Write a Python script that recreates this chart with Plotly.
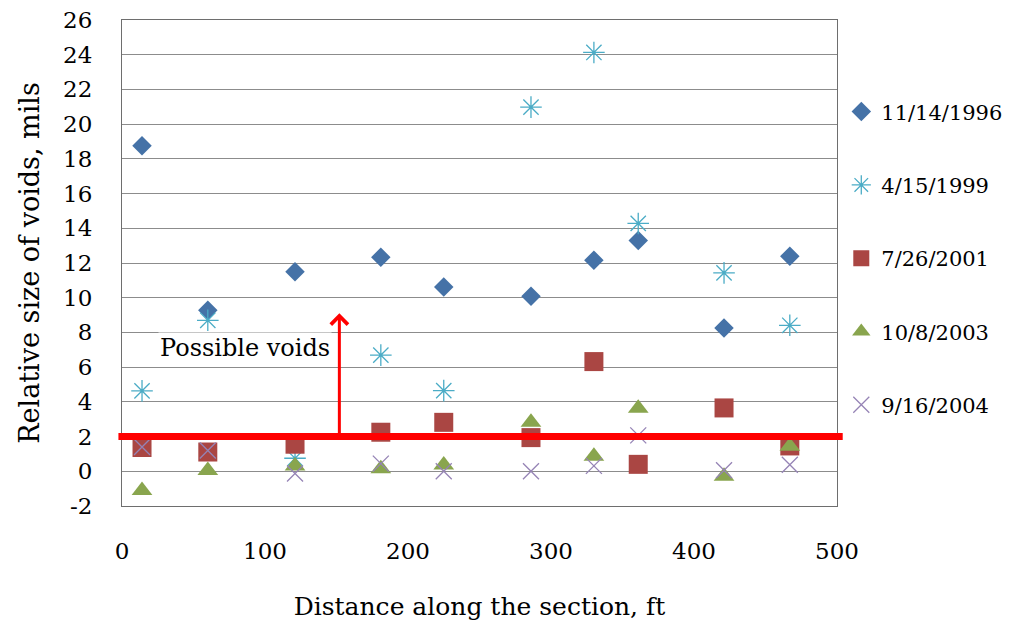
import plotly.graph_objects as go

distance = [14, 60, 121, 181, 225, 286, 330, 361, 421, 467]

voids_1996 = [18.75, 9.28, 11.49, 12.33, 10.62, 10.09, 12.16, 13.3, 8.26, 12.39]
voids_1999 = [4.63, 8.7, 0.75, 6.69, 4.65, 20.98, 24.13, 14.28, 11.43, 8.41]
voids_2001 = [1.37, 1.11, 1.56, 2.25, 2.82, 1.94, 6.32, 0.4, 3.65, 1.46]
voids_2003 = [-1.11, 0.04, 0.31, 0.15, 0.36, 2.82, 0.86, 3.63, -0.29, 1.44]
voids_2004 = [1.4, 1.2, -0.13, 0.44, 0.0, 0.0, 0.31, 2.07, 0.06, 0.38]

y_ticks = [-2, 0, 2, 4, 6, 8, 10, 12, 14, 16, 18, 20, 22, 24, 26]
y_labels = ["-2", "0", "2", "4", "6", "8", "10", "12", "14", "16", "18",
            "20", "22", "24", "26"]

threshold = 2
arrow_x = 152
arrow_top = 9.1

FONT = "DejaVu Serif"

fig = go.Figure()

series = [
    ("11/14/1996", voids_1996, dict(symbol="diamond", size=15, color="#4572A7")),
    ("4/15/1999", voids_1999, dict(symbol="asterisk-open", size=18, color="#4BACC6",
                                    line=dict(color="#4BACC6", width=1.3))),
    ("7/26/2001", voids_2001, dict(symbol="square", size=19, color="#AA4643")),
    ("10/8/2003", voids_2003, dict(symbol="triangle-up", size=18, color="#89A54E")),
    ("9/16/2004", voids_2004, dict(symbol="x-thin-open", size=16, color="#9583B5",
                                    line=dict(color="#9583B5", width=1.3))),
]

for name, vals, marker in series:
    fig.add_trace(go.Scatter(
        x=distance, y=vals, mode="markers", name=name,
        legendgroup=name, marker=marker
    ))

# threshold line at 2 mils
fig.add_shape(type="line", xref="paper", yref="y",
              x0=-0.005, x1=1.008, y0=threshold, y1=threshold,
              line=dict(color="#FF0000", width=7))

fig.add_annotation(x=arrow_x, y=arrow_top, ax=arrow_x, ay=threshold,
                   xref="x", yref="y", axref="x", ayref="y",
                   text="", showarrow=True, arrowhead=4, arrowsize=1.1,
                   arrowwidth=3, arrowcolor="#FF0000")

fig.add_annotation(x=86, y=7.1, xref="x", yref="y", text="Possible voids",
                   showarrow=False, bgcolor="white",
                   font=dict(family=FONT, size=24, color="black"))

# page body has an 8px margin, so the figure is sized to fit the window
fig.update_layout(
    width=1006, height=617,
    margin=dict(l=114, r=177, t=12, b=119, autoexpand=False),
    plot_bgcolor="white", paper_bgcolor="white",
    font=dict(family=FONT, size=23, color="black"),
    legend=dict(x=1.006, y=0.853, xanchor="left", yanchor="top",
                font=dict(family=FONT, size=21), tracegroupgap=43,
                itemsizing="trace"),
    xaxis=dict(
        range=[0, 500], dtick=100, showgrid=False, zeroline=False,
        showline=True, linecolor="#6e6e6e", linewidth=1, mirror=True,
        ticks="", ticklabelstandoff=24, automargin=False,
        ticklabeloverflow="allow",
        tickfont=dict(family=FONT, size=23),
        title=dict(text="Distance along the section, ft", standoff=34,
                   font=dict(family=FONT, size=25)),
    ),
    yaxis=dict(
        range=[-2, 26], tickvals=y_ticks, ticktext=y_labels,
        showgrid=True, gridcolor="#8c8c8c",
        gridwidth=1, zeroline=False,
        showline=True, linecolor="#6e6e6e", linewidth=1, mirror=True,
        ticks="", ticklabelstandoff=24, automargin=False,
        ticklabeloverflow="allow",
        tickfont=dict(family=FONT, size=23),
        title=dict(text="Relative size of voids, mils", standoff=15,
                   font=dict(family=FONT, size=27)),
    ),
)

fig.write_html("out.html")
